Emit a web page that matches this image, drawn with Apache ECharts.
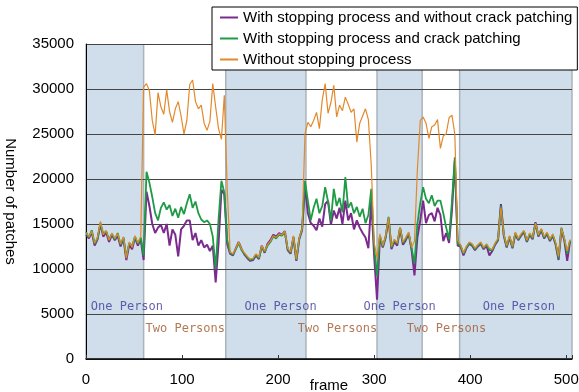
<!DOCTYPE html>
<html>
<head>
<meta charset="utf-8">
<script src="https://cdn.jsdelivr.net/npm/echarts@6/dist/echarts.min.js"></script>
<style>
html,body{margin:0;padding:0;background:#fff;}
#main{width:579px;height:392px;}
</style>
</head>
<body>
<div id="main"></div>
<script>
const frames = [0,3,6,9,12,15,18,21,24,27,30,33,36,39,42,45,48,51,54,57,
60,
63,66,69,72,75,78,81,84,87,90,93,96,99,102,105,108,111,114,117,120,123,126,129,132,135,138,141,144,
147,
150,153,156,159,162,165,168,171,174,177,180,183,186,189,192,195,198,201,204,207,210,213,216,219,222,225,
228,231,234,237,240,243,246,249,252,255,258,261,264,267,270,273,276,279,282,285,288,291,294,297,300,
303,306,309,312,315,318,321,324,327,330,333,336,339,342,
345,348,351,354,357,360,363,366,369,372,375,378,381,384,387,
390,393,396,399,402,405,408,411,414,417,420,423,426,429,432,435,438,441,444,447,450,453,456,459,462,465,468,471,474,477,480,483,486,489,492,495,498,501,504];

const seriesNames = [
  'With stopping process and without crack patching',
  'With stopping process and crack patching',
  'Without stopping process'
];

const purpleValues = [13800,13400,14100,12600,13300,15000,13600,14100,13000,13800,13200,13700,12500,13400,11000,12700,12200,13500,12600,13300,
11000,
18600,17000,15000,14000,14600,14900,14000,15000,12600,14400,13800,11400,14400,14800,15400,15400,13200,14000,12600,13200,12400,12700,12000,12600,8500,12800,18800,18300,
12800,
11700,11500,12300,13000,12200,11600,11200,10900,11000,11500,11100,12600,11800,12800,13200,13800,13600,14000,13800,14200,12100,11700,13500,10900,13300,14300,
19200,16200,15100,14800,14300,15600,14700,17200,17600,14900,16500,15600,16800,15000,17600,15400,16200,14400,15400,14600,14000,13500,12300,17600,11500,
6600,13600,12400,13500,15600,12200,13000,12600,14500,12700,13200,13900,12100,9300,
13500,15400,17600,15100,16000,16200,15300,16800,16000,13100,14000,12900,16500,22000,12600,
12500,11500,12300,12800,12600,12100,12500,12800,12200,12600,11500,12000,12700,13200,17200,13700,12400,13500,12300,13900,13200,13700,14100,13000,13800,13300,15200,13600,14300,13400,13900,13100,13700,12700,11000,14400,13200,10900,13100];

const greenValues = [14100,13500,14300,12800,13400,15100,13900,14200,13300,13900,13300,14000,12700,13500,11300,12900,12500,13600,12800,13500,
11500,
20800,19600,18000,16200,15400,16800,17400,16600,17100,15900,16700,15700,16900,16100,17300,18300,16800,17500,16200,15500,15200,15400,15000,13600,10000,15500,19800,18500,
13200,
11800,11600,12200,12900,12100,11700,11300,11000,11100,11600,11200,12500,11900,12600,13000,13600,13400,13800,13700,14100,12200,11800,13600,11000,13400,14500,
19800,17600,15400,16800,17800,16200,17000,19100,17500,15400,18900,17000,17900,16300,20200,16800,17400,16200,16900,15800,16700,15100,16000,18900,12500,
9200,13700,12500,13600,15800,12400,13200,12800,14600,12900,13400,14000,12300,10600,
15000,17300,19100,17800,17300,18200,17000,17600,17600,16200,14600,13300,17500,22400,12800,
12600,11700,12400,12900,12700,12200,12600,12900,12300,12700,12100,12100,12800,13300,17000,13800,12500,13600,12400,14000,13300,13800,14200,13100,13900,13400,15100,13700,14400,13500,14000,13200,13800,12800,11200,14600,13300,11700,13200];

const orangeValues = [14000,13600,14200,12900,13500,15300,13800,14300,13200,14000,13400,13900,12800,13600,11200,13000,12400,13700,12900,13600,
30200,
30600,29800,26500,24900,29600,28000,27200,29900,27500,26300,27800,28600,27000,25000,26500,30500,31000,28600,27800,28200,26200,25400,26400,30600,28000,25600,24400,29300,
19000,
11900,11700,12300,13000,12200,11800,11400,11100,11200,11700,11300,12600,12000,12700,13100,13700,13500,13900,13800,14200,12300,11900,13700,11100,13500,14400,
25000,26300,25800,26500,27400,25600,28800,30600,27300,28500,30400,26900,28200,27600,29100,28300,27400,27800,24100,26200,27000,27800,26600,21500,13000,
11200,13900,12600,13700,15700,12500,13300,12900,14600,13000,13500,14100,12400,13100,
21000,26500,26900,26200,24500,25800,26000,26600,23400,24800,25000,26800,27100,25000,13200,
12700,11800,12500,13000,12800,12300,12700,13000,12400,12800,12300,12200,12900,13400,16800,13900,12600,13700,12500,14100,13400,13900,14300,13200,14000,13500,15100,13800,14500,13600,14100,13300,13900,12900,11400,14500,13400,12000,13300];

// shaded "One Person" frame ranges
const regionStart = [0, 145.5, 303, 389];
const regionEnd = [60, 229, 350, 506];

// scene labels
const sceneText = ['One Person','One Person','One Person','One Person','Two Persons','Two Persons','Two Persons'];
const sceneFrame = [5, 165, 289, 413, 62, 220.5, 334];
const sceneValue = [5800, 5800, 5800, 5800, 3300, 3300, 3300];

const yTicks = [0,5000,10000,15000,20000,25000,30000,35000];
const xTicks = [0,100,200,300,400,500];

const colors = ['#7b2a8e', '#1f9a45', '#e3892b'];
const sceneColors = {'One Person':'#3b3b9a','Two Persons':'#a0562c'};

const chart = echarts.init(document.getElementById('main'));
const yMax = yTicks[yTicks.length-1];
const xMax = regionEnd[regionEnd.length-1];

function pairs(vals){ return frames.map((f,i)=>[f, vals[i]]); }

const option = {
  animation:false,
  backgroundColor:'#fff',
  textStyle:{fontFamily:'Liberation Sans, Arial, sans-serif'},
  grid:{left:86, right:7, top:44, bottom:33, containLabel:false, outerBoundsMode:'none'},
  legend:{
    orient:'vertical', left:212, top:7, z:10,
    padding:[3,5,3,8], itemGap:6, itemWidth:18, itemHeight:2, icon:'rect',
    borderColor:'#000', borderWidth:1, backgroundColor:'#fff',
    textStyle:{fontSize:15, color:'#000', fontFamily:'Liberation Sans, Arial, sans-serif'},
    data:seriesNames
  },
  xAxis:{
    type:'value', min:0, max:xMax, interval:100, z:3,
    name:'frame', nameLocation:'middle', nameGap:19, nameMoveOverlap:false,
    nameTextStyle:{fontSize:15, color:'#000'},
    axisLine:{lineStyle:{color:'#000', width:1.5}},
    axisTick:{inside:true, length:4, lineStyle:{color:'#333'}},
    axisLabel:{fontSize:15, color:'#000', margin:13, formatter:v=> xTicks.indexOf(v)>=0 ? String(v) : ''},
    splitLine:{show:false}
  },
  yAxis:{
    type:'value', min:0, max:yMax, interval:5000, z:3,
    name:'Number of patches', nameLocation:'middle', nameGap:68, nameRotate:-90, nameMoveOverlap:false,
    nameTextStyle:{fontSize:15, color:'#000'},
    axisLine:{show:true, lineStyle:{color:'#000', width:1}},
    axisTick:{show:false},
    axisLabel:{fontSize:15, color:'#000', margin:12, formatter:v=>String(v)},
    splitLine:{show:true, lineStyle:{color:'#444', width:1.2}}
  },
  series:[
    {
      type:'custom', name:'bg', z:1, silent:true,
      data: regionStart.map((s,i)=>[s, regionEnd[i]]),
      encode:{x:[0,1]},
      renderItem:function(params, api){
        const p0 = api.coord([api.value(0), yMax]);
        const p1 = api.coord([api.value(1), 0]);
        return {type:'group', children:[
          {type:'rect', shape:{x:p0[0], y:p0[1], width:p1[0]-p0[0], height:p1[1]-p0[1]}, style:{fill:'#cfdeea'}},
          {type:'line', shape:{x1:p0[0], y1:p0[1], x2:p0[0], y2:p1[1]}, style:{stroke:'#aab3bb', lineWidth:1.5}},
          {type:'line', shape:{x1:p1[0], y1:p0[1], x2:p1[0], y2:p1[1]}, style:{stroke:'#aab3bb', lineWidth:1.5}}
        ]};
      }
    },
    {name:seriesNames[0], type:'line', z:5, symbol:'none', data:pairs(purpleValues), color:colors[0], lineStyle:{color:colors[0], width:2}},
    {name:seriesNames[1], type:'line', z:5, symbol:'none', data:pairs(greenValues), color:colors[1], lineStyle:{color:colors[1], width:1.8}},
    {name:seriesNames[2], type:'line', z:5, symbol:'none', data:pairs(orangeValues), color:colors[2], lineStyle:{color:colors[2], width:1.2}},
    {
      type:'scatter', name:'scenes', z:6, symbolSize:0, silent:true,
      data: sceneText.map((t,i)=>({name:t, value:[sceneFrame[i], sceneValue[i]],
        label:{color:sceneColors[t]}})),
      label:{show:true, position:'right', distance:0, formatter:p=>p.name,
        fontFamily:'DejaVu Sans Mono, monospace', fontSize:12}
    }
  ]
};
chart.setOption(option);
</script>
</body>
</html>
